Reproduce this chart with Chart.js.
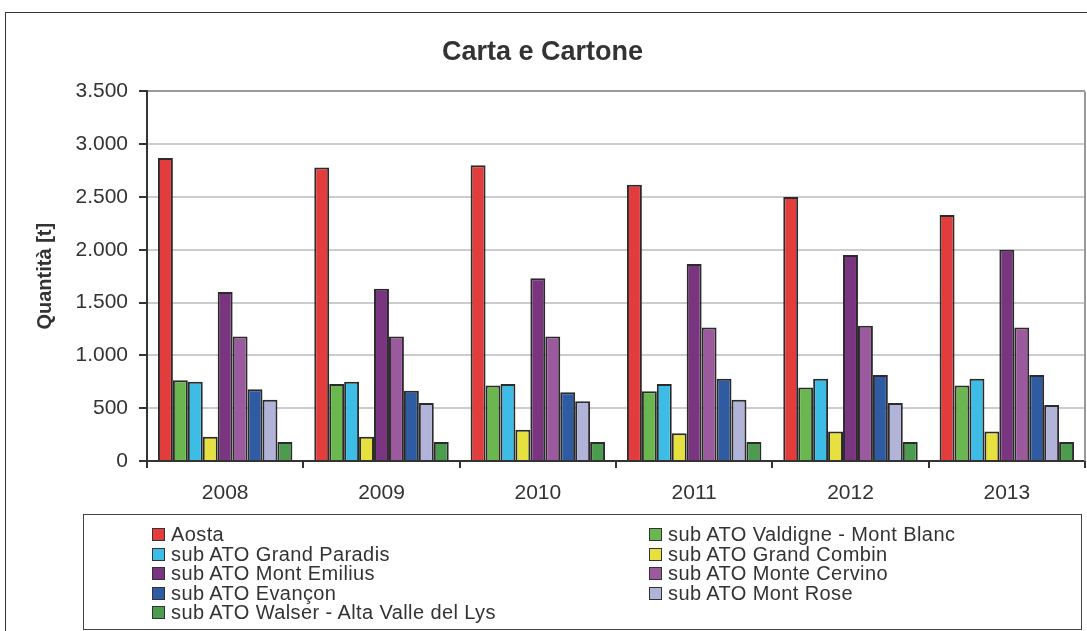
<!DOCTYPE html>
<html>
<head>
<meta charset="utf-8">
<script src="https://cdn.jsdelivr.net/npm/chart.js@4.4.1/dist/chart.umd.min.js"></script>
<style>
  html, body { margin: 0; padding: 0; background: #fff; overflow: hidden; }
  #wrap { position: absolute; left: 0; top: 0; width: 1087px; height: 631px; }
  #frame { position: absolute; left: 5px; top: 12px; width: 1200px; height: 700px; border: 1.5px solid #333; box-sizing: border-box; pointer-events: none; }
  #legend { position: absolute; left: 83px; top: 514px; width: 999px; height: 116px; border: 1.5px solid #444; box-sizing: border-box;
            padding: 10px 0 0 68px; display: grid; grid-template-columns: 497px 1fr; grid-auto-rows: 19.5px;
            font-family: "Liberation Sans", Arial, sans-serif; font-size: 20px; color: #333; letter-spacing: 0.4px; }
  #legend .item { display: flex; align-items: center; white-space: nowrap; line-height: 19.5px; }
  #legend .box { width: 11px; height: 11px; border: 1.5px solid #333; margin-right: 6px; flex: none; }
</style>
</head>
<body>
<div id="wrap"><canvas id="bar-chart-grouped"></canvas></div>
<div id="frame"></div>
<div id="legend"></div>
<script>
// anni
var years = ["2008", "2009", "2010", "2011", "2012", "2013"];

// quantità [t] per sub ATO
var aosta        = [2870, 2780, 2800, 2615, 2500, 2330];
var valdigne     = [765, 730, 715, 660, 695, 715];
var grandParadis = [750, 750, 730, 730, 780, 780];
var grandCombin  = [230, 230, 295, 262, 280, 280];
var montEmilius  = [1600, 1630, 1730, 1865, 1950, 2000];
var monteCervino = [1180, 1180, 1180, 1265, 1280, 1265];
var evancon      = [680, 665, 650, 780, 815, 815];
var montRose     = [580, 550, 565, 580, 550, 530];
var walser       = [180, 180, 180, 180, 180, 180];

var yTicks = [0, 500, 1000, 1500, 2000, 2500, 3000, 3500];

var labels = ["Aosta", "sub ATO Valdigne - Mont Blanc", "sub ATO Grand Paradis", "sub ATO Grand Combin",
              "sub ATO Mont Emilius", "sub ATO Monte Cervino", "sub ATO Evançon", "sub ATO Mont Rose",
              "sub ATO Walser - Alta Valle del Lys"];
var values = [aosta, valdigne, grandParadis, grandCombin, montEmilius, monteCervino, evancon, montRose, walser];
var color = ["#E23D3C", "#6AB74F", "#3DBDE6", "#E6E13F", "#7A3581", "#9B5A9E", "#2E5BA1", "#B2B3D8", "#4B9C4F"];

var datasets = [];
for (var i = 0; i < labels.length; i++) {
    datasets.push({
        label: labels[i],
        data: values[i],
        backgroundColor: color[i],
        borderColor: "#2b2b2b",
        borderWidth: 2,
        borderSkipped: "bottom",
        barPercentage: 1,
        categoryPercentage: 0.86
    });
}

function fmt(v) {
    return String(v).replace(/\B(?=(\d{3})+(?!\d))/g, ".");
}

// bordo destro grigio dell'area del grafico
var rightBorder = {
    id: "rightBorder",
    afterDraw: function (chart) {
        var a = chart.chartArea, ctx = chart.ctx;
        ctx.save();
        ctx.strokeStyle = "#9a9a9a";
        ctx.lineWidth = 2;
        ctx.beginPath();
        ctx.moveTo(a.right, a.top);
        ctx.lineTo(a.right, a.bottom);
        ctx.stroke();
        ctx.restore();
    }
};

var chart = new Chart(document.getElementById("bar-chart-grouped"), {
    type: "bar",
    data: { labels: years, datasets: datasets },
    plugins: [rightBorder],
    options: {
        responsive: true,
        maintainAspectRatio: false,
        animation: false,
        layout: { padding: { left: 0, right: 2, top: 0, bottom: 120 } },
        plugins: {
            legend: { display: false },
            tooltip: { enabled: false },
            title: {
                display: true,
                text: "Carta e Cartone",
                color: "#333",
                font: { family: "Liberation Sans", size: 27, weight: "bold" },
                padding: { top: 36, bottom: 23 }
            }
        },
        scales: {
            x: {
                grid: { drawOnChartArea: false, drawTicks: true, tickLength: 7, tickColor: "#333", lineWidth: 2 },
                border: { color: "#333", width: 2 },
                ticks: { color: "#333", padding: 13, font: { family: "Liberation Sans", size: 21 } },
                afterFit: function (scale) { scale.height = 50; }
            },
            y: {
                min: 0,
                max: 3500,
                afterBuildTicks: function (scale) {
                    scale.ticks = yTicks.map(function (v) { return { value: v }; });
                },
                grid: {
                    color: function (ctx) { return ctx.tick && ctx.tick.value === 3500 ? "#9a9a9a" : "#cbccd0"; },
                    lineWidth: 2,
                    tickLength: 8,
                    tickColor: "#333"
                },
                border: { color: "#333", width: 2 },
                ticks: {
                    color: "#333",
                    padding: 11,
                    font: { family: "Liberation Sans", size: 21 },
                    callback: function (v) { return fmt(v); }
                },
                title: {
                    display: true,
                    text: "Quantità [t]",
                    color: "#333",
                    font: { family: "Liberation Sans", size: 20, weight: "bold" },
                    padding: { top: 33, bottom: 0 }
                },
                afterFit: function (scale) { scale.width = 147; }
            }
        }
    }
});

// legenda a due colonne
var leg = document.getElementById("legend");
chart.data.datasets.forEach(function (ds) {
    var item = document.createElement("div");
    item.className = "item";
    var box = document.createElement("span");
    box.className = "box";
    box.style.background = ds.backgroundColor;
    var txt = document.createElement("span");
    txt.textContent = ds.label;
    item.appendChild(box);
    item.appendChild(txt);
    leg.appendChild(item);
});
</script>
</body>
</html>
